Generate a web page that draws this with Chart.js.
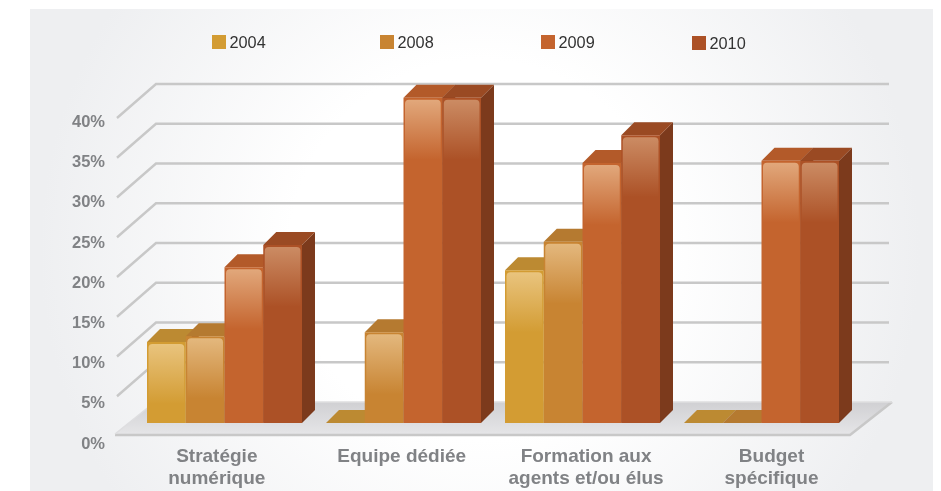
<!DOCTYPE html>
<html lang="fr">
<head>
<meta charset="utf-8">
<style>
html,body{margin:0;padding:0;background:#fff}
canvas{display:block}
</style>
<script src="https://cdn.jsdelivr.net/npm/chart.js@4/dist/chart.umd.min.js"></script>
</head>
<body>
<canvas id="c" width="941" height="491" style="width:941px;height:491px"></canvas>
<script>
const categories = [['Stratégie','numérique'],['Equipe dédiée'],['Formation aux','agents et/ou élus'],['Budget','spécifique']];
const series2004 = [10.2, 0, 19.2, 0];
const series2008 = [10.9, 11.4, 22.8, 0];
const series2009 = [19.6, 40.9, 32.7, 33];
const series2010 = [22.4, 40.9, 36.2, 33];
const seriesNames = ['2004','2008','2009','2010'];
const yTicks = [0,5,10,15,20,25,30,35,40];
const categoryLabelCentres = [0.457, 1.49, 2.52, 3.556];

const frontColors = ['#D39C33','#C88432','#C4642E','#AC5126'];
const topColors   = ['#BC8A32','#B57A30','#B35A29','#9A4A23'];
const glossAlpha  = [0.5,0.5,0.5,0.38];
const sideColor = '#7C3A1C';
const depth = {dx:13, dy:13};
const legendSpots = [[212,35],[380,35],[541,35],[692,36]];

const AREA = {left:135, right:851, top:80, bottom:444};
const BAR_ZERO = 423, BAR_PX = 7.95, LABEL_PX = 8.04;

const decor = {
  id:'decor',
  beforeDraw(chart){
    const c = chart.ctx;
    c.save();
    const g = c.createRadialGradient(480,250,190,480,250,440);
    g.addColorStop(0,'#ffffff');
    g.addColorStop(1,'#EEEFF1');
    c.fillStyle = g;
    c.fillRect(30,9,903,482);
    c.restore();
  },
  beforeDatasetsDraw(chart){
    const c = chart.ctx, y = chart.scales.y;
    c.save();
    // floor
    const y0 = y.getPixelForValue(0);
    const fl = [[115,y0+11],[850,y0+11],[892,y0-21],[155,y0-21]];
    const g = c.createLinearGradient(0,y0-21,0,y0+11);
    g.addColorStop(0,'#D0D0D3'); g.addColorStop(1,'#E5E5E7');
    c.beginPath(); fl.forEach((p,i)=> i?c.lineTo(p[0],p[1]):c.moveTo(p[0],p[1])); c.closePath();
    c.fillStyle = g; c.fill();
    c.strokeStyle = '#C8C8C8'; c.lineWidth = 2.5;
    c.beginPath(); c.moveTo(115,y0+12); c.lineTo(850,y0+12); c.lineTo(892,y0-21); c.stroke();
    c.strokeStyle = '#DEDEE0'; c.lineWidth = 1.5;
    c.beginPath(); c.moveTo(892,y0-21); c.lineTo(155,y0-21); c.lineTo(115,y0+11); c.stroke();
    // gridlines
    c.strokeStyle = '#C8C8C8'; c.lineWidth = 2.4;
    chart.scales.yLab.ticks.forEach(t=>{
      if(t.value===0) return;
      const p = y.getPixelForValue(t.value);
      c.beginPath(); c.moveTo(117,p+13); c.lineTo(156,p-21); c.lineTo(889,p-21); c.stroke();
    });
    // top and side faces of the bars
    chart.data.datasets.forEach((ds,di)=>{
      chart.getDatasetMeta(di).data.forEach(b=>{
        const L=b.x-b.width/2, R=b.x+b.width/2, T=b.y, B=b.base;
        c.fillStyle = sideColor;
        c.beginPath(); c.moveTo(R,T); c.lineTo(R+depth.dx,T-depth.dy); c.lineTo(R+depth.dx,B-depth.dy); c.lineTo(R,B); c.closePath(); c.fill();
        c.fillStyle = topColors[di];
        c.beginPath(); c.moveTo(L,T); c.lineTo(L+depth.dx,T-depth.dy); c.lineTo(R+depth.dx,T-depth.dy); c.lineTo(R,T); c.closePath(); c.fill();
      });
    });
    c.restore();
  },
  afterDatasetsDraw(chart){
    const c = chart.ctx;
    c.save();
    chart.data.datasets.forEach((ds,di)=>{
      chart.getDatasetMeta(di).data.forEach(b=>{
        const h = b.base-b.y;
        if(h<1) return;
        const L=b.x-b.width/2+1.5, W=b.width-3, T=b.y+2, H=Math.min(60,h-2);
        const g = c.createLinearGradient(0,T,0,T+H);
        g.addColorStop(0,'rgba(255,235,200,'+glossAlpha[di]+')');
        g.addColorStop(1,'rgba(255,235,200,0)');
        c.fillStyle = g;
        c.beginPath(); c.roundRect(L,T,W,H,[4,4,0,0]); c.fill();
      });
    });
    // legend
    c.font = '16.3px "Liberation Sans"';
    c.textBaseline = 'middle';
    chart.data.datasets.forEach((ds,di)=>{
      const [x,y] = legendSpots[di];
      c.fillStyle = ds.backgroundColor;
      c.fillRect(x,y,14,14);
      c.fillStyle = '#333333';
      c.fillText(ds.label,x+17.5,y+9);
    });
    c.restore();
  }
};

new Chart(document.getElementById('c'),{
  type:'bar',
  data:{
    labels:categories,
    datasets:[series2004,series2008,series2009,series2010].map((d,i)=>({
      label:seriesNames[i], data:d, backgroundColor:frontColors[i], borderWidth:0,
      categoryPercentage:155/179, barPercentage:1, xAxisID:'x', yAxisID:'y'
    }))
  },
  options:{
    responsive:false, animation:false, devicePixelRatio:1,
    layout:{padding:{left:0,right:941-AREA.right,top:AREA.top,bottom:0}},
    plugins:{legend:{display:false},tooltip:{enabled:false},title:{display:false}},
    scales:{
      x:{type:'category',display:false,offset:true},
      xLab:{
        type:'linear',position:'bottom',min:0,max:4,offset:false,
        afterBuildTicks(s){ s.ticks = categoryLabelCentres.map(v=>({value:v})); },
        afterFit(s){ s.height = 491-AREA.bottom; },
        grid:{display:false,drawTicks:false},border:{display:false},
        ticks:{
          autoSkip:false,maxRotation:0,minRotation:0,padding:1,color:'#808285',
          font:{family:'"Liberation Sans"',size:19,weight:'bold',lineHeight:1.19},
          callback(v,i){ return categories[i]; }
        }
      },
      y:{
        display:false,position:'left',
        min:(BAR_ZERO-AREA.bottom)/BAR_PX,
        max:(BAR_ZERO-AREA.top)/BAR_PX
      },
      yLab:{
        type:'linear',position:'left',min:0,max:(AREA.bottom-AREA.top)/LABEL_PX,
        afterBuildTicks(s){ s.ticks = yTicks.map(v=>({value:v})); },
        afterFit(s){ s.width = AREA.left; },
        grid:{display:false,drawTicks:false},border:{display:false},
        ticks:{
          padding:30,color:'#808285',
          font:{family:'"Liberation Sans"',size:16.5,weight:'bold'},
          callback(v){ return v+'%'; }
        }
      }
    }
  },
  plugins:[decor]
});
</script>
</body>
</html>
